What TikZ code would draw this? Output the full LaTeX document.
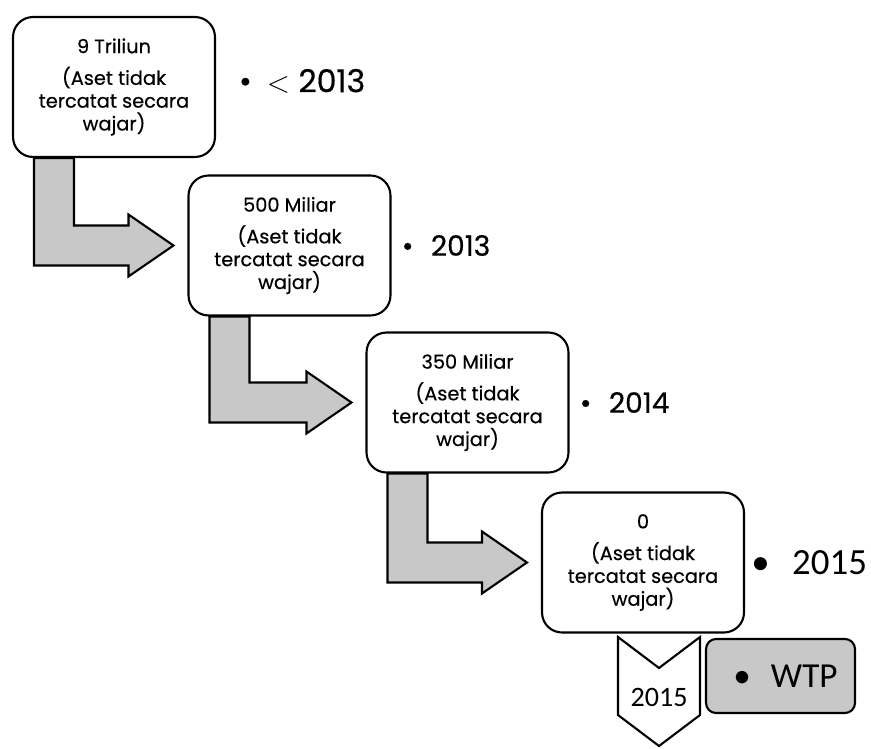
\documentclass[tikz,border=0pt]{standalone}
\usepackage{fontspec}
\setmainfont{Poppins}[FakeBold=0.4]
\newfontfamily\calibri{Carlito}
\usepackage{xcolor}
\usetikzlibrary{positioning, calc}

\definecolor{stepgray}{RGB}{200,200,200}

\tikzset{
  stage/.style={rectangle, draw, line width=1.2pt, rounded corners=0.4cm, fill=white,
    minimum width=4.04cm, minimum height=2.8cm, align=center,
    font=\fontsize{11}{13}\selectfont},
  bent/.style={draw, line width=1.2pt, fill=stepgray, line join=miter},
  yearlabel/.style={inner sep=0pt, font=\fontsize{16}{18}\selectfont},
}

\begin{document}
\begin{tikzpicture}[x=0.02cm, y=-0.02cm]
  \useasboundingbox (0,0) rectangle (871,749);

  \node[stage] (b1) at (114,87) {9 Triliun\\[5pt](Aset tidak\\tercatat secara\\wajar)};
  \node[stage] (b2) at (289.5,245.5) {500 Miliar\\[5pt](Aset tidak\\tercatat secara\\wajar)};
  \node[stage] (b3) at (467.5,402.5) {350 Miliar\\[5pt](Aset tidak\\tercatat secara\\wajar)};
  \node[stage] (b4) at (643,562.5) {0\\[5pt](Aset tidak\\tercatat secara\\wajar)};

  \node[yearlabel, right=0.45cm of b1, yshift=0.12cm, font=\fontsize{18}{20}\selectfont] (y1) {\textbullet\hspace{0.3cm}$<$ 2013};
  \node[yearlabel, right=0.2cm of b2] (y2) {\textbullet\hspace{0.35cm}2013};
  \node[yearlabel, right=0.2cm of b3] (y3) {\textbullet\hspace{0.35cm}2014};
  \node[yearlabel, right=0.12cm of b4, font=\calibri\fontsize{21}{24}\selectfont] (y4) {\textbullet\hspace{0.45cm}2015};

  % bent arrows between the stages
  \foreach \a/\b in {b1/b2, b2/b3, b3/b4} {
    \coordinate (s) at ($(\a.south west)+(22,0)$);
    \coordinate (t) at ($(\b.west)+(-14,0)$);
    \draw[bent] (s) -- ++(40,0) |- ($(t)+(-45,-20)$) -- ++(0,-11) -- (t)
      -- ++(-45,31) -- ++(0,-11) -| (s) -- cycle;
  }

  % chevron below the last stage
  \coordinate (c) at (659,697);
  \draw[line width=1.2pt, fill=white, line join=miter] ($(c)+(-41,-60)$) -- ($(c)+(0,-29)$)
    -- ($(c)+(41,-60)$) -- ($(c)+(41,18)$) -- ($(c)+(0,49)$) -- ($(c)+(-41,18)$) -- cycle;
  \node[inner sep=0pt, font=\calibri\fontsize{16}{18}\selectfont] (yr) at (c) {2015};
  \node[rectangle, draw, line width=1.2pt, fill=stepgray, rounded corners=0.2cm,
    minimum width=2.98cm, minimum height=1.48cm,
    font=\calibri\fontsize{20}{24}\selectfont] (wtp) at (780.5,676)
    {\hspace*{0.2cm}\textbullet\hspace{0.4cm}WTP};
\end{tikzpicture}
\end{document}
